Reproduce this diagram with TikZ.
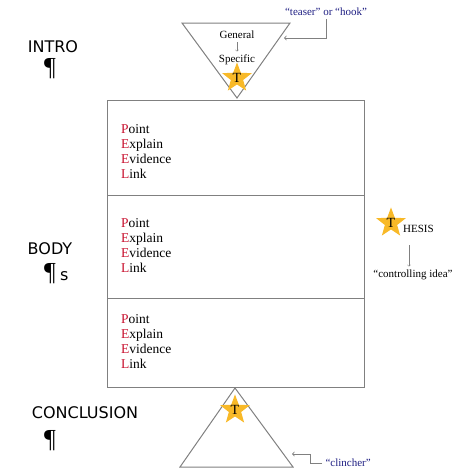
\documentclass[tikz,border=0pt]{standalone}
\usepackage{fontspec}
\usepackage{tikz}
\usetikzlibrary{shapes.geometric}
\setmainfont{Liberation Serif}
\newfontfamily\labelfont{DejaVu Sans}
\definecolor{linegray}{RGB}{128,128,128}
\definecolor{stargold}{RGB}{248,185,40}
\definecolor{peelred}{RGB}{200,16,46}
\definecolor{quoteblue}{RGB}{30,30,130}
\newcommand{\peellist}{\textcolor{peelred}{P}oint\\\textcolor{peelred}{E}xplain\\\textcolor{peelred}{E}vidence\\\textcolor{peelred}{L}ink}

\begin{document}
\begin{tikzpicture}[x=1pt,y=-1pt,
  frame/.style={draw=linegray,line width=1pt},
  peel/.style={anchor=north west,align=left,inner sep=0pt,font=\fontsize{13.5}{15}\selectfont},
  part/.style={inner sep=0pt,font=\labelfont\fontsize{16}{16}\selectfont},
  pilcrow/.style={anchor=base,inner sep=0pt,text height=17pt,text depth=0pt,font=\fontsize{26}{26}\selectfont},
  tstar/.style={star,star points=5,star point ratio=2.4,fill=stargold,minimum size=28pt,inner sep=0pt,font=\fontsize{14}{14}\selectfont},
  quote/.style={text=quoteblue,font=\fontsize{11}{11}\selectfont},
  note/.style={font=\fontsize{11}{11}\selectfont}]
\useasboundingbox (0,0) rectangle (474,474);

% intro
\node[part] (intro) at (53,47) {INTRO};
\node[pilcrow] (ip) at (50,75) {¶};
\coordinate (il) at (182,23);
\coordinate (ir) at (290,23);
\coordinate (ia) at (237,98);
\draw[frame] (il) -- (ir) -- (ia) -- cycle;
\node[note] (gen) at (237,35) {General};
\node[note] (spec) at (237,60) {Specific};
\draw[->,linegray] (gen) -- (spec);
\node[tstar] (s1) at (237,78) {T};
\node[quote] (hook) at (326,12) {“teaser” or “hook”};
\coordinate (hookend) at (284,38);
\draw[->,linegray,thick] (hook.south) |- (hookend);

% body
\node[part] (body) at (50,249) {BODY};
\node[pilcrow] (bp) at (50,280) {¶};
\node[part,anchor=base west] (bs) at (60,280) {s};
\draw[frame] (107,100) rectangle (364,195);
\draw[frame] (107,195) rectangle (364,298);
\draw[frame] (107,298) rectangle (364,387);
\node[peel] (p1) at (121,124) {\peellist};
\node[peel] (p2) at (121,218) {\peellist};
\node[peel] (p3) at (121,314) {\peellist};

% thesis
\node[tstar] (s2) at (391,223) {T};
\node[font=\fontsize{11}{11}\selectfont,anchor=base west,inner sep=0pt] (hesis) at (403,232) {HESIS};
\node[note] (ctrl) at (413,275) {“controlling idea”};
\coordinate (tdown) at (409,245);
\draw[->,linegray] (tdown) -- (ctrl.north -| tdown);

% conclusion
\node[part] (concl) at (85,413) {CONCLUSION};
\node[pilcrow] (cp) at (50,447) {¶};
\coordinate (cl) at (180,467);
\coordinate (cr) at (293,467);
\coordinate (ca) at (235,388);
\draw[frame] (ca) -- (cr) -- (cl) -- cycle;
\node[tstar] (s3) at (235,410) {T};
\node[quote,anchor=west] (clin) at (322,463) {“clincher”};
\coordinate (clinend) at (292,454);
\draw[->,linegray,thick] (clin.west) -- ++(-12,0) |- (clinend);
\end{tikzpicture}
\end{document}
